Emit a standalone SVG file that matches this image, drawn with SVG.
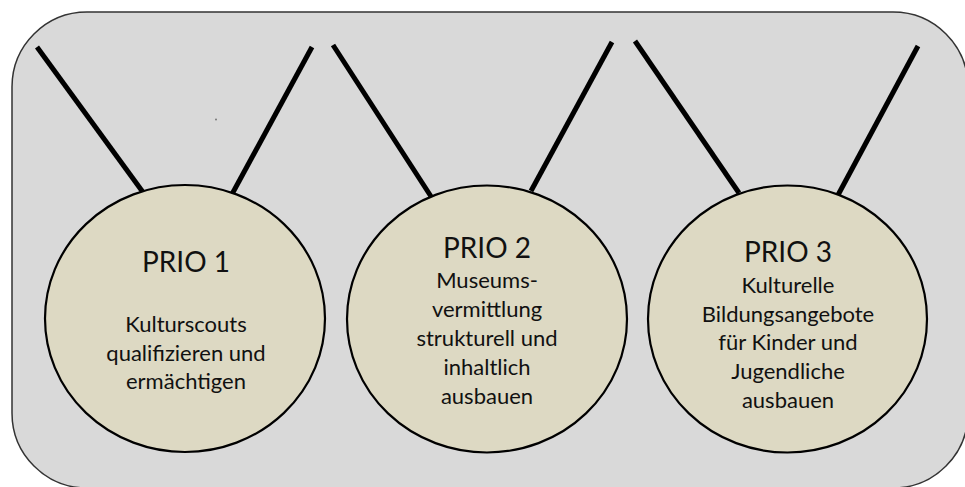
<svg xmlns="http://www.w3.org/2000/svg" width="965" height="487" viewBox="0 0 965 487">
  <style>
    .frame { fill: #D9D9D9; stroke: #333333; stroke-width: 1.5; }
    .string { stroke: #000000; stroke-width: 5; stroke-linecap: butt; fill: none; }
    .ball { fill: #DDD9C3; stroke: #000000; stroke-width: 2.2; }
    .title { font-family: Lato, "Open Sans", sans-serif; font-size: 28px; fill: #111111; text-anchor: middle; }
    .body { font-family: Lato, "Open Sans", sans-serif; font-size: 22px; fill: #111111; text-anchor: middle; }
  </style>
  <rect class="frame" x="12" y="12" width="956" height="476" rx="75" ry="75"/>
  <circle cx="216" cy="119.5" r="1" fill="#777777"/>
  <g id="connectors">
    <line class="string" x1="37" y1="47" x2="145" y2="195"/>
    <line class="string" x1="312" y1="47" x2="231" y2="196"/>
    <line class="string" x1="333" y1="45" x2="432" y2="198"/>
    <line class="string" x1="612" y1="42" x2="531" y2="191"/>
    <line class="string" x1="635" y1="41" x2="739" y2="193"/>
    <line class="string" x1="918" y1="46" x2="838" y2="195"/>
  </g>
  <g id="prio1">
    <ellipse class="ball" cx="185" cy="318.5" rx="140" ry="133.5"/>
    <text class="title" x="186" y="272">PRIO 1</text>
    <text class="body" x="186" y="332">Kulturscouts</text>
    <text class="body" x="186" y="360.5">qualifizieren und</text>
    <text class="body" x="186" y="389">ermächtigen</text>
  </g>
  <g id="prio2">
    <ellipse class="ball" cx="487" cy="319" rx="140" ry="133.5"/>
    <text class="title" x="487" y="258">PRIO 2</text>
    <text class="body" x="487" y="288">Museums-</text>
    <text class="body" x="487" y="317">vermittlung</text>
    <text class="body" x="487" y="346">strukturell und</text>
    <text class="body" x="487" y="375">inhaltlich</text>
    <text class="body" x="487" y="404">ausbauen</text>
  </g>
  <g id="prio3">
    <ellipse class="ball" cx="787.5" cy="319" rx="139.5" ry="133.5"/>
    <text class="title" x="788" y="262">PRIO 3</text>
    <text class="body" x="788" y="293">Kulturelle</text>
    <text class="body" x="788" y="321.5">Bildungsangebote</text>
    <text class="body" x="788" y="350">für Kinder und</text>
    <text class="body" x="788" y="379">Jugendliche</text>
    <text class="body" x="788" y="408">ausbauen</text>
  </g>
</svg>
